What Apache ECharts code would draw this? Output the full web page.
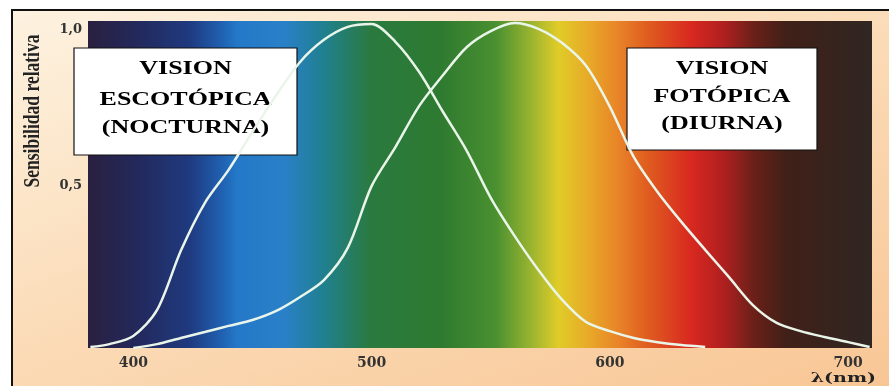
<!DOCTYPE html>
<html>
<head>
<meta charset="utf-8">
<script src="https://cdn.jsdelivr.net/npm/echarts@6/dist/echarts.min.js"></script>
<style>
  html, body { margin: 0; padding: 0; background: #fff; overflow: hidden; }
  #frame {
    position: absolute; left: 11px; top: 9px; width: 900px; height: 400px;
    border-left: 2px solid #111; border-top: 2px solid #111;
    background: linear-gradient(160deg, #fdf2e0 0%, #fbdcb8 45%, #f8c492 100%);
  }
  #chart { position: absolute; left: 0; top: 0; width: 889px; height: 386px; }
</style>
</head>
<body>
<div id="frame"></div>
<div id="chart"></div>
<script>
// curva escotópica (nocturna): longitud de onda (nm) y sensibilidad relativa
var scotNm  = [382, 390, 400, 410, 420, 430, 440, 450, 460, 470, 480, 490, 500, 510, 520, 530, 540, 550, 560, 570, 580, 590, 600, 610, 620, 630, 640];
var scotVal = [0.003, 0.012, 0.037, 0.117, 0.30, 0.446, 0.548, 0.665, 0.778, 0.88, 0.948, 0.988, 0.997, 0.942, 0.849, 0.726, 0.606, 0.462, 0.345, 0.24, 0.148, 0.08, 0.052, 0.031, 0.018, 0.009, 0.003];
// curva fotópica (diurna)
var photNm  = [400, 410, 420, 430, 440, 450, 460, 470, 480, 490, 500, 510, 520, 530, 540, 550, 560, 570, 580, 590, 600, 610, 620, 630, 640, 650, 660, 670, 680, 690, 700, 709];
var photVal = [0, 0.012, 0.031, 0.049, 0.068, 0.086, 0.114, 0.157, 0.209, 0.308, 0.498, 0.618, 0.745, 0.84, 0.926, 0.975, 1.0, 0.982, 0.938, 0.868, 0.742, 0.588, 0.48, 0.388, 0.302, 0.218, 0.132, 0.077, 0.052, 0.034, 0.018, 0.003];
// marcas de los ejes
var xTicks = [400, 500, 600, 700];
var yTicks = [0.5, 1.0];

// colores del espectro (posición relativa en el área del gráfico)
var spectrum = [
  [0.00, '#2a2040'], [0.06, '#23285a'], [0.13, '#1f3a80'], [0.17, '#2060b0'],
  [0.19, '#2478c8'], [0.25, '#2a80c8'], [0.30, '#208090'], [0.36, '#2a7a40'],
  [0.45, '#2e7a30'], [0.52, '#4a9030'], [0.56, '#90b030'], [0.60, '#e0cc28'],
  [0.64, '#e8a828'], [0.68, '#e88028'], [0.71, '#e06020'], [0.77, '#d82820'],
  [0.81, '#b02020'], [0.85, '#6a2018'], [0.89, '#402018'], [1.00, '#302622']
];

function pairs(xs, ys) {
  var out = [];
  for (var i = 0; i < xs.length; i++) out.push([xs[i], ys[i]]);
  return out;
}

var serif = '"Liberation Serif", "DejaVu Serif", serif';
var myChart = echarts.init(document.getElementById('chart'));

function box(x, y, w, h, lines, ys) {
  var children = [{
    type: 'rect',
    shape: { x: x, y: y, width: w, height: h },
    style: { fill: '#fff', stroke: '#111', lineWidth: 1.2 }
  }];
  for (var i = 0; i < lines.length; i++) {
    children.push({
      type: 'text',
      x: x + w / 2, y: ys[i], scaleY: 0.75,
      style: {
        text: lines[i], font: 'bold 26px ' + serif, fill: '#000',
        align: 'center', verticalAlign: 'middle'
      }
    });
  }
  return { type: 'group', z: 100, children: children };
}

var option = {
  backgroundColor: 'transparent',
  animation: false,
  grid: {
    left: 88, right: 17, top: 21, bottom: 38,
    show: true, borderWidth: 0,
    backgroundColor: {
      type: 'linear', x: 0, y: 0, x2: 1, y2: 0,
      colorStops: spectrum.map(function (s) { return { offset: s[0], color: s[1] }; })
    }
  },
  xAxis: {
    type: 'value', min: 381, max: 710,
    axisLine: { show: false }, axisTick: { show: false }, splitLine: { show: false },
    axisLabel: {
      customValues: xTicks, margin: 8,
      fontFamily: '"DejaVu Serif", serif', fontWeight: 'bold', fontSize: 14, color: '#333'
    }
  },
  yAxis: {
    type: 'value', min: 0, max: 1.006,
    axisLine: { show: false }, axisTick: { show: false }, splitLine: { show: false },
    axisLabel: {
      customValues: yTicks, margin: 6,
      fontFamily: '"DejaVu Serif", serif', fontWeight: 'bold', fontSize: 13, color: '#333',
      formatter: function (v) {
        var s = v.toFixed(1).replace('.', ',');
        return v >= 1 ? '{top|' + s + '}' : s;
      },
      rich: {
        top: {
          padding: [14, 0, 0, 0],
          fontFamily: '"DejaVu Serif", serif', fontWeight: 'bold', fontSize: 13, color: '#333'
        }
      }
    }
  },
  series: [
    {
      name: 'Escotópica', type: 'line', data: pairs(scotNm, scotVal),
      smooth: 0.3, showSymbol: false,
      lineStyle: { color: '#eaf5ea', width: 2.5 }
    },
    {
      name: 'Fotópica', type: 'line', data: pairs(photNm, photVal),
      smooth: 0.3, showSymbol: false,
      lineStyle: { color: '#eaf5ea', width: 2.5 }
    }
  ],
  graphic: [
    box(74, 48, 223, 107, ['VISION', 'ESCOTÓPICA', '(NOCTURNA)'], [69, 100, 128]),
    box(627, 48, 190, 102, ['VISION', 'FOTÓPICA', '(DIURNA)'], [69, 97, 124]),
    {
      type: 'text', x: 33, y: 111, rotation: Math.PI / 2, scaleX: 0.73, z: 100,
      style: {
        text: 'Sensibilidad relativa', font: 'bold 24px ' + serif, fill: '#222',
        align: 'center', verticalAlign: 'middle'
      }
    },
    {
      type: 'text', x: 876, y: 378, scaleY: 0.72, z: 100,
      style: {
        text: 'λ(nm)', font: 'bold 19px "DejaVu Serif", serif', fill: '#222',
        align: 'right', verticalAlign: 'middle'
      }
    }
  ]
};
myChart.setOption(option);
</script>
</body>
</html>
